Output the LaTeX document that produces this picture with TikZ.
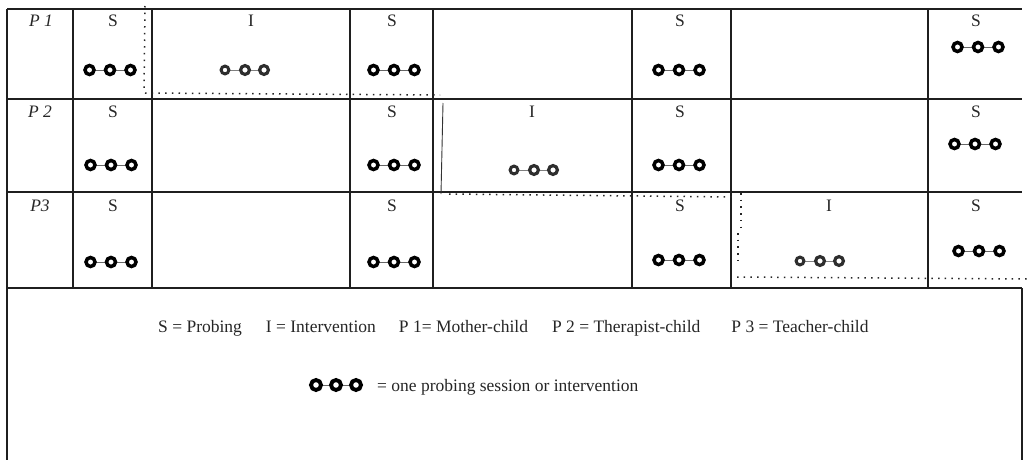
\documentclass[tikz,border=0pt]{standalone}
\usepackage{fontspec}
\setmainfont{Liberation Serif}
\begin{document}
\begin{tikzpicture}[x=1pt,y=-1pt,
  gridline/.style={line width=1.5pt, black!88},
  dotline/.style={line width=1.5pt, black!85, dash pattern=on 1.5pt off 5.2pt},
  thinline/.style={line width=0.9pt, black!80},
  lbl/.style={font=\fontsize{17.5}{20}\selectfont, inner sep=0pt, text=black!85},
  rowlbl/.style={lbl, font=\fontsize{17.5}{20}\selectfont\itshape},
  pics/ooo/.style={code={
    \draw[line width=0.8pt, black!60] (-20.5,0)--(20.5,0);
    \foreach \i in {-20.5,0,20.5}
      \draw[line width=3.5pt, fill=white] (\i,0) circle[radius=4.5pt];
  }},
  pics/oooi/.style={code={
    \draw[line width=0.8pt, black!50] (-20,0)--(19,0);
    \draw[line width=3.0pt, black!82, fill=white] (-20,0) circle[radius=3.9pt];
    \foreach \i in {0,19}
      \draw[line width=3.2pt, black!82, fill=white] (\i,0) circle[radius=4.4pt];
  }},
  pics/ooobig/.style={code={
    \draw[line width=0.8pt, black!60] (-20,0)--(20,0);
    \foreach \i in {-20,0,20}
      \draw[line width=3.9pt, fill=white] (\i,0) circle[radius=5pt];
  }}
]
\useasboundingbox (0,0) rectangle (1027,460);
\fill[white] (0,0) rectangle (1027,460);

% grid coordinates
\foreach \n/\x in {a/7,b/73,c/152,d/350,e/433,f/632,g/731,h/928,k/1022}{
  \coordinate (t\n) at (\x,9);
  \coordinate (m\n) at (\x,288);
}
\coordinate (r1l) at (7,99);   \coordinate (r1r) at (1022,99);
\coordinate (r2l) at (7,192);  \coordinate (r2r) at (1022,192);
\coordinate (bl) at (7,460);   \coordinate (br) at (1022,460);

% horizontal lines
\draw[gridline] (ta) -- (tk);
\draw[gridline] (r1l) -- (r1r);
\draw[gridline] (r2l) -- (r2r);
\draw[gridline] (ma) -- (mk);
% vertical lines
\draw[gridline] (ta) -- (bl);
\draw[gridline] (mk) -- (br);
\foreach \n in {b,c,d,e,f,g,h}
  \draw[gridline] (t\n) -- (m\n);

% row labels
\node[rowlbl] (p1) at (41,21) {P 1};
\node[rowlbl] (p2) at (40,112) {P 2};
\node[rowlbl] (p3) at (40,206) {P3};

% row 1
\node[lbl] (s11) at (113,21) {S};
\node[lbl] (i12) at (251,21) {I};
\node[lbl] (s13) at (392,21) {S};
\node[lbl] (s15) at (680,21) {S};
\node[lbl] (s17) at (976,21) {S};
\pic at (110,70) {ooo};
\pic at (245,70) {oooi};
\pic at (394,70) {ooo};
\pic at (679,70) {ooo};
\pic at (978,47) {ooo};

% row 2
\node[lbl] (s21) at (113,112) {S};
\node[lbl] (s23) at (392,112) {S};
\node[lbl] (i24) at (532,112) {I};
\node[lbl] (s25) at (680,112) {S};
\node[lbl] (s27) at (976,112) {S};
\pic at (111,165) {ooo};
\pic at (394,165) {ooo};
\pic at (534,170) {oooi};
\pic at (679,165) {ooo};
\pic at (975,144) {ooo};

% row 3
\node[lbl] (s31) at (113,206) {S};
\node[lbl] (s33) at (392,206) {S};
\node[lbl] (s35) at (680,206) {S};
\node[lbl] (i36) at (829,206) {I};
\node[lbl] (s37) at (976,206) {S};
\pic at (111,262) {ooo};
\pic at (394,262) {ooo};
\pic at (679,260) {ooo};
\pic at (820,261) {oooi};
\pic at (979,251) {ooo};

% phase-change markers
\coordinate (d1a) at (145,6);
\coordinate (d1b) at (144,89);
\coordinate (d1c) at (145,93);
\coordinate (d1d) at (440,95);
\draw[dotline] (d1a) -- (d1b);
\draw[dotline] (d1c) -- (d1d);
\coordinate (s2a) at (443,103);
\coordinate (s2b) at (441,194);
\draw[thinline] (s2a) -- (s2b);
\coordinate (d2a) at (449,194);
\coordinate (d2b) at (733,197);
\draw[dotline] (d2a) -- (d2b);
\coordinate (d3a) at (741,193);
\coordinate (d3b) at (741,228);
\coordinate (d3c) at (738,233);
\coordinate (d3d) at (738,266);
\draw[dotline] (d3a) -- (d3b);
\draw[dotline] (d3c) -- (d3d);
\coordinate (d3e) at (737,277);
\coordinate (d3f) at (1027,279);
\draw[dotline] (d3e) -- (d3f);

% legend
\node[lbl, anchor=base west] (leg1) at (158,332)
  {S = Probing\hspace{24pt}I = Intervention\hspace{23pt}P 1= Mother-child\hspace{24pt}P 2 = Therapist-child\hspace{31pt}P 3 = Teacher-child};
\pic at (336,385) {ooobig};
\node[lbl, anchor=base west] (leg2) at (377,391) {= one probing session or intervention};
\end{tikzpicture}
\end{document}
